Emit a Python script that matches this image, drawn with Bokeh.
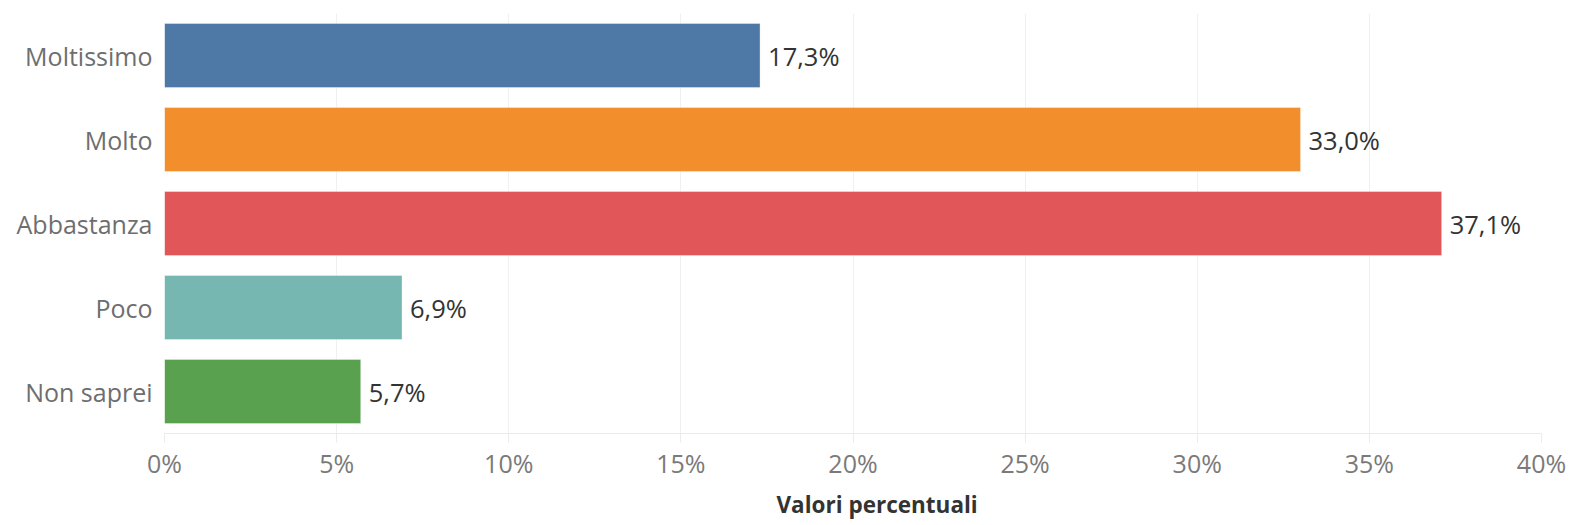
from bokeh.plotting import figure
from bokeh.models import FactorRange, Range1d, FixedTicker, ColumnDataSource, CustomJSTickFormatter
from bokeh.core.properties import value
from bokeh.embed import file_html
from bokeh.resources import INLINE

categories = ["Moltissimo", "Molto", "Abbastanza", "Poco", "Non saprei"]
percentages = [17.3, 33.0, 37.1, 6.9, 5.7]
colors = ["#4e79a7", "#f28e2b", "#e15759", "#76b7b2", "#59a14f"]
x_ticks = [0, 5, 10, 15, 20, 25, 30, 35, 40]
axis_title = "Valori percentuali"

labels = [f"{v:.1f}".replace(".", ",") + "%" for v in percentages]

src = ColumnDataSource(dict(cat=categories, val=percentages, col=colors, lab=labels))

FONT = "Open Sans"

p = figure(
    width=1570, height=525,
    y_range=FactorRange(factors=list(reversed(categories))),
    x_range=Range1d(0, 40),
    output_backend="svg", toolbar_location=None,
    min_border_left=164, min_border_right=29, min_border_top=13, min_border_bottom=92,
    title=axis_title, title_location="below",
)
p.outline_line_color = None

p.hbar(y="cat", right="val", left=0, height=0.762, fill_color="col", line_color="white",
       line_alpha=0.35, line_width=1, source=src)
p.text(x="val", y="cat", text="lab", source=src, x_offset=8, text_baseline="middle",
       text_align="left", text_font=value(FONT), text_font_size="25.5px", text_color="#333333")

# x axis
xa = p.xaxis[0]
xa.ticker = FixedTicker(ticks=x_ticks)
xa.formatter = CustomJSTickFormatter(code="return tick + '%'")
xa.minor_tick_line_color = None
xa.axis_line_color = "#ebebeb"
xa.major_tick_line_color = "#ebebeb"
xa.major_tick_out = 9
xa.major_tick_in = 0
xa.major_label_standoff = 3
xa.major_label_text_font = FONT
xa.major_label_text_font_size = "25px"
xa.major_label_text_color = "#7a7a7a"

# axis title as a below-title, shifted right like in the reference
t = p.title
t.align = "left"
t.offset = 612
t.standoff = 9
t.text_font = FONT
t.text_font_size = "22.5px"
t.text_font_style = "bold"
t.text_color = "#333333"

# y axis
ya = p.yaxis[0]
ya.axis_line_color = None
ya.major_tick_line_color = None
ya.minor_tick_line_color = None
ya.major_tick_out = 0
ya.major_tick_in = 0
ya.major_label_standoff = 12
ya.major_label_text_font = FONT
ya.major_label_text_font_size = "25px"
ya.major_label_text_color = "#6e6e6e"

p.xgrid.grid_line_color = "#f0f0f0"
p.ygrid.grid_line_color = None

open("out.html", "w").write(file_html(p, INLINE))
